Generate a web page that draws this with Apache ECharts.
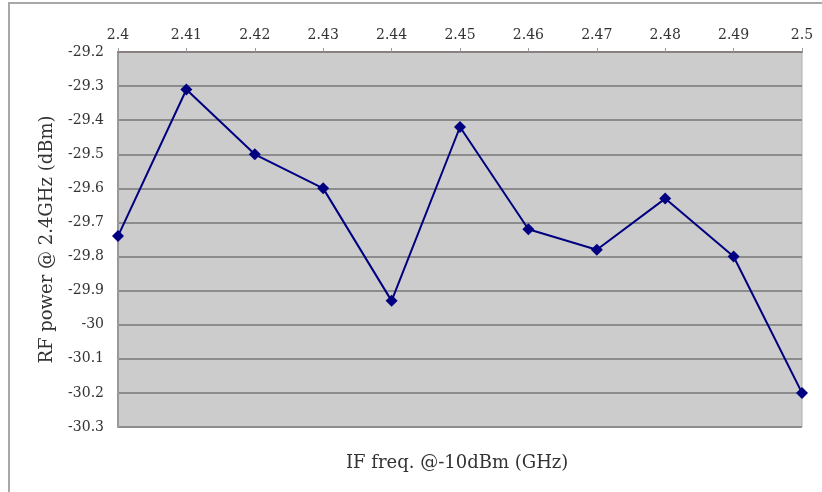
<!DOCTYPE html>
<html>
<head>
<meta charset="utf-8">
<script src="https://cdn.jsdelivr.net/npm/echarts@6/dist/echarts.min.js"></script>
<style>
  html, body { margin: 0; padding: 0; background: #fff; }
  #frame { position: absolute; left: 8px; top: 2px; width: 814px; height: 490px;
           border-left: 2px solid #a8a8a8; border-top: 2px solid #a8a8a8; box-sizing: border-box; }
  #chart { position: absolute; left: 0; top: 0; width: 822px; height: 492px; }
</style>
</head>
<body>
<div id="frame"></div>
<div id="chart"></div>
<script>
// IF frequency sweep (GHz) and measured RF power at 2.4 GHz (dBm)
const freqs = ['2.4', '2.41', '2.42', '2.43', '2.44', '2.45', '2.46', '2.47', '2.48', '2.49', '2.5'];
const rfPower = [-29.74, -29.31, -29.50, -29.60, -29.93, -29.42, -29.72, -29.78, -29.63, -29.80, -30.20];
const yMin = -30.3, yMax = -29.2, yStep = 0.1;

const serif = '"DejaVu Serif", "Liberation Serif", serif';
const chart = echarts.init(document.getElementById('chart'), null, { renderer: 'canvas' });

chart.setOption({
  animation: false,
  backgroundColor: 'transparent',
  grid: {
    left: 118, right: 20, top: 52, bottom: 65,
    show: true, backgroundColor: '#cccccc', borderColor: '#b0b0b0', borderWidth: 1
  },
  xAxis: {
    type: 'category',
    data: freqs,
    position: 'top',
    boundaryGap: false,
    axisLine: { show: true, lineStyle: { color: '#8a7f7f', width: 2 } },
    axisTick: { show: true, length: 4, lineStyle: { color: '#999' } },
    axisLabel: { color: '#333', fontFamily: serif, fontSize: 14, margin: 10 },
    splitLine: { show: false }
  },
  yAxis: {
    type: 'value',
    min: yMin, max: yMax, interval: yStep,
    name: 'RF power @ 2.4GHz (dBm)',
    nameLocation: 'middle',
    nameGap: 62,
    nameRotate: 90,
    nameTextStyle: { color: '#333', fontFamily: serif, fontSize: 18 },
    axisLine: { show: true, lineStyle: { color: '#999', width: 2 } },
    axisTick: { show: false },
    axisLabel: {
      color: '#333', fontFamily: serif, fontSize: 14, margin: 14,
      formatter: v => String(parseFloat(v.toFixed(1)))
    },
    splitLine: { show: true, lineStyle: { color: '#8c8c8c', width: 2 } }
  },
  graphic: [{
    type: 'text',
    left: 346, top: 454,
    style: {
      text: 'IF freq. @-10dBm (GHz)',
      fill: '#333', font: '18px ' + serif
    }
  }],
  series: [{
    type: 'line',
    data: rfPower,
    symbol: 'diamond',
    symbolSize: 12,
    lineStyle: { color: '#000080', width: 2 },
    itemStyle: { color: '#000080' }
  }]
});
</script>
</body>
</html>
